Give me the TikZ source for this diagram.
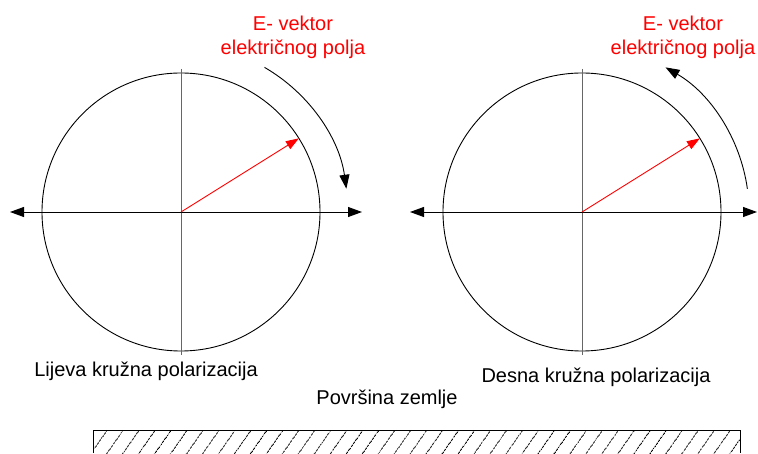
\documentclass[tikz,border=0pt]{standalone}
\usepackage{fontspec}
\setmainfont{Liberation Sans}
\usetikzlibrary{arrows.meta,patterns.meta}

\begin{document}
\begin{tikzpicture}[x=1pt,y=1pt,>={Triangle[length=14pt,width=10pt]},
  lbl/.style={font=\fontsize{20}{24}\selectfont,inner sep=0pt,align=center},
  axis/.style={<->,line width=0.9pt},
  vaxis/.style={black!60,line width=0.6pt},
  evec/.style={-{Triangle[length=13pt,width=9pt]},red,line width=0.9pt},
  rot/.style={->,line width=0.9pt}]
  \useasboundingbox (0,0) rectangle (758,453);
  % left: lijeva
  \coordinate (o1) at (181,241);
  \coordinate (l1) at (10,241);
  \coordinate (r1) at (362,241);
  \coordinate (t1) at (181,384);
  \coordinate (b1) at (181,98);
  \coordinate (e1) at ([shift={(32:139)}]o1);
  \draw[line width=0.9pt] (o1) circle[radius=139];
  \draw[vaxis] (t1) -- (b1);
  \draw[axis] (l1) -- (r1);
  \draw[evec] (o1) -- (e1);
  \draw[rot] (o1) ++(60:167) arc[start angle=60,end angle=8,radius=167];
  \node[lbl,red] (n1) at (293,416) {E- vektor\\električnog polja};
  \node[lbl] (p1) at (146,82) {Lijeva kružna polarizacija};
  % right: desna
  \coordinate (o2) at (582,241);
  \coordinate (l2) at (410,241);
  \coordinate (r2) at (757,241);
  \coordinate (t2) at (582,384);
  \coordinate (b2) at (582,98);
  \coordinate (e2) at ([shift={(32:139)}]o2);
  \draw[line width=0.9pt] (o2) circle[radius=139];
  \draw[vaxis] (t2) -- (b2);
  \draw[axis] (l2) -- (r2);
  \draw[evec] (o2) -- (e2);
  \draw[rot] (o2) ++(8:167) arc[start angle=8,end angle=60,radius=167];
  \node[lbl,red] (n2) at (683,416) {E- vektor\\električnog polja};
  \node[lbl] (p2) at (596,76) {Desna kružna polarizacija};
  % tlo
  \node[lbl] (zem) at (387,54) {Površina zemlje};
  \fill[pattern={Lines[angle=55,distance=13pt,line width=0.8pt]}] (93,0) rectangle (740,23);
  \draw[line width=0.9pt] (93,0) |- (740,23) -- (740,0);
\end{tikzpicture}
\end{document}
